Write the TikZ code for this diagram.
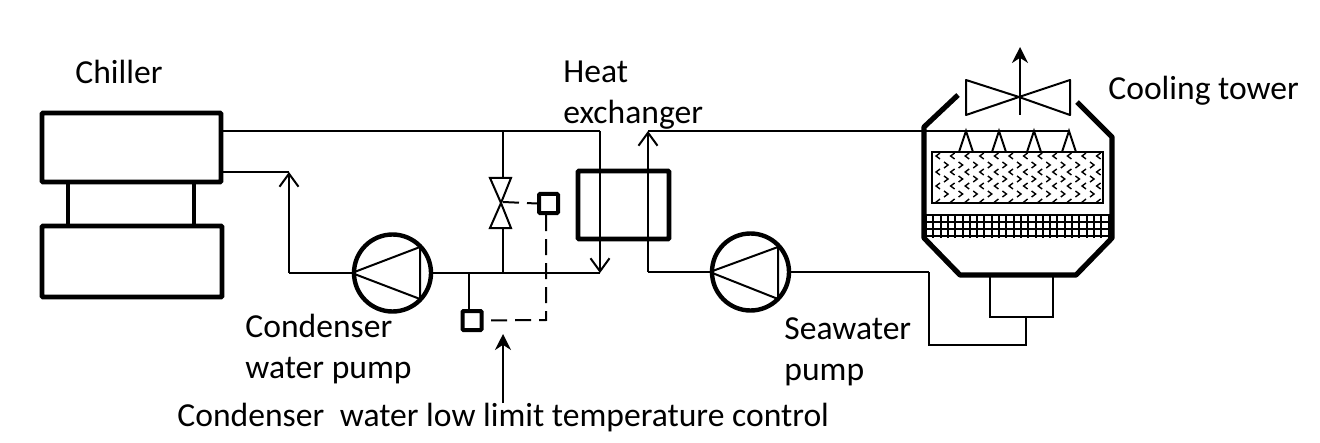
\documentclass[tikz,border=0pt]{standalone}
\usepackage{fontspec}
\setmainfont{Carlito}
\usetikzlibrary{arrows.meta}
\tikzset{
  plant/.style={draw, rectangle, rounded corners=0.5pt, line width=2.4pt, inner sep=0pt},
  sensorbox/.style={plant, line width=2pt, minimum width=9.5pt, minimum height=9.5pt},
  pumpcircle/.style={draw, circle, line width=2.2pt, minimum size=38.5pt, inner sep=0pt},
  pipe/.style={line width=1pt},
  flowpipe/.style={line width=1pt, -{Straight Barb[length=6.5pt,width=9.5pt,line width=1pt]}},
  signal/.style={line width=1pt, dash pattern=on 8pt off 4pt},
  shell/.style={line width=2.6pt, line join=round},
  label/.style={font=\fontsize{16.8}{20.5}\selectfont, align=left, inner sep=0pt, anchor=north west}
}
\begin{document}
\begin{tikzpicture}[x=0.5pt,y=-0.5pt]
  \useasboundingbox (0,0) rectangle (1320,443);

  % Chiller
  \node[plant, minimum width=89.5pt, minimum height=34.5pt] (evap) at (131.5,147.5) {};
  \node[plant, minimum width=90pt, minimum height=35.5pt] (cond) at (132,261.5) {};
  \draw[line width=2.4pt] (evap.south -| 68,0) -- (cond.north -| 68,0);
  \draw[line width=2.4pt] (evap.south -| 194,0) -- (cond.north -| 194,0);

  % Heat exchanger, pumps, sensors
  \node[plant, minimum width=45.5pt, minimum height=34pt] (hx) at (623.5,205) {};
  \node[pumpcircle] (pumpA) at (392.5,273) {};
  \node[pumpcircle] (pumpB) at (750.5,272) {};
  \node[sensorbox] (sensorA) at (548.5,203.5) {};
  \node[sensorbox] (sensorB) at (472,320.5) {};

  % Pump triangles
  \draw[pipe, line join=round] (pumpA.west) -- (420,247) -- (420,299) -- cycle;
  \draw[pipe, line join=round] (pumpB.west) -- (778,247) -- (778,299) -- cycle;

  % Three way valve
  \coordinate (valve) at (501,203);
  \draw[pipe] (valve) -- (490,178) -- (511,178) -- cycle;
  \draw[pipe] (valve) -- (490,228) -- (511,228) -- cycle;

  % Junctions
  \coordinate (supplyA) at (evap.east |- 0,131);
  \coordinate (returnA) at (evap.east |- 0,172);
  \coordinate (cornerA) at (289,172);
  \coordinate (cornerB) at (289,273);
  \coordinate (hxIn) at (600,131);
  \coordinate (hxOut) at (600,273);
  \coordinate (seaIn) at (648,272);
  \coordinate (seaOut) at (648,131);
  \coordinate (branchTop) at (503,131);
  \coordinate (branchBot) at (503,273);
  \coordinate (tapA) at (469,273);

  % Condenser water circuit
  \draw[pipe] (supplyA) -- (hxIn);
  \draw[flowpipe] (hxIn) -- (hxOut);
  \draw[pipe] (pumpA.east) -- (hxOut);
  \draw[pipe] (returnA) -- (cornerA);
  \draw[flowpipe] (cornerB) -- (cornerA);
  \draw[pipe] (pumpA.west) -- (cornerB);
  \draw[pipe] (branchTop) -- (503,178);
  \draw[pipe] (503,228) -- (branchBot);
  \draw[pipe] (tapA) -- (tapA |- sensorB.north);

  % Control signals
  \draw[signal] (503,202) -- (sensorA.west);
  \draw[signal] (sensorA.south -| 546,0) -- (546,320) -- (sensorB.east);
  \coordinate (controlFoot) at (503,403);
  \draw[pipe, -{Stealth[length=8pt,width=8pt]}] (controlFoot) -- (503,334);

  % Cooling tower shell
  \draw[shell] (958,95) -- (924,127) -- (924,238) -- (960,275) -- (1076,275) -- (1112,238) -- (1112,137) -- (1077,102);

  % Fan
  \coordinate (fan) at (1019,97);
  \draw[pipe, line join=round] (fan) -- (966,80) -- (966,115) -- cycle;
  \draw[pipe, line join=round] (fan) -- (1070,80) -- (1070,115) -- cycle;
  \draw[pipe, -{Stealth[length=8pt,width=8pt]}] (1020,115) -- (1020,47);

  % Spray line and nozzles
  \draw[pipe] (seaOut) -- (1070,131);
  \foreach \nx in {966,999,1034,1069}
    \draw[pipe] (\nx-7,152) -- (\nx,131) -- (\nx+7,152);

  % Fill
  \node[draw, line width=1pt, minimum width=85.5pt, minimum height=25.5pt, inner sep=0pt] (fill) at (1017.5,177.5) {};
  \foreach \ry/\rx in {156/938,172/938,186/938}
    \foreach \i in {0,...,11}
      \draw[line width=0.7pt] (\rx+\i*14.6+2,\ry-3) -- (\rx+\i*14.6-2,\ry) -- (\rx+\i*14.6+2,\ry+3);
  \foreach \ry/\rx in {165/946,179/946,194/946}
    \foreach \i in {0,...,10}
      \draw[line width=0.7pt] (\rx+\i*14.6-2,\ry-3) -- (\rx+\i*14.6+2,\ry) -- (\rx+\i*14.6-2,\ry+3);
  \foreach \i in {0,...,11}
    \draw[line width=0.7pt] (938+\i*14.6-3,203) -- (938+\i*14.6+2,199);

  % Grid
  \foreach \gy in {215,222,229,236}
    \draw[line width=1pt] (924,\gy) -- (1112,\gy);
  \foreach \i in {0,...,25}
    \draw[line width=1pt] (926+\i*7.3,215) -- (926+\i*7.3,238);

  % Basin and seawater pump
  \draw[pipe] (990,275) -- (990,317) -- (1053,317) -- (1053,275);
  \coordinate (basin) at (1026,317);
  \coordinate (seaA) at (929,272);
  \draw[pipe] (basin) -- (1026,345) -- (929,345) -- (seaA);
  \draw[pipe] (seaA) -- (pumpB.east);
  \draw[pipe] (pumpB.west) -- (seaIn);
  \draw[flowpipe] (seaIn) -- (seaOut);

  % Text
  \node[label, text depth=0pt] (tChiller) at (75,60) {Chiller};
  \node[label] (tHx) at (563,61) {Heat\\exchanger};
  \node[label] (tTower) at (1108,76) {Cooling tower};
  \node[label] (tPumpA) at (245,314) {Condenser\\water pump};
  \node[label] (tPumpB) at (784,317) {Seawater\\pump};
  \node[label] (tControl) at (177,403) {Condenser\hspace{4pt} water low limit temperature control};
\end{tikzpicture}
\end{document}
